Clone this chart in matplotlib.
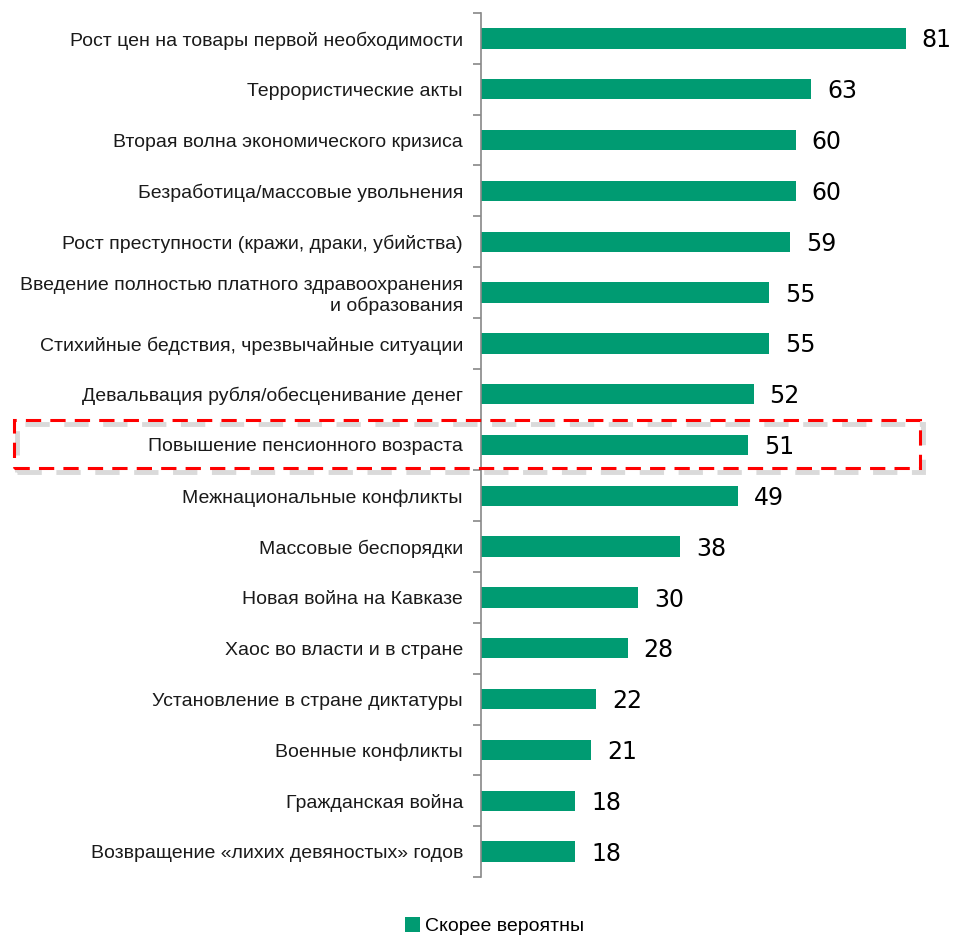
import matplotlib.pyplot as plt
import matplotlib.patches as mpatches
import numpy as np

categories = [
    'Рост цен на товары первой необходимости',
    'Террористические акты',
    'Вторая волна экономического кризиса',
    'Безработица/массовые увольнения',
    'Рост преступности (кражи, драки, убийства)',
    'Введение полностью платного здравоохранения\nи образования',
    'Стихийные бедствия, чрезвычайные ситуации',
    'Девальвация рубля/обесценивание денег',
    'Повышение пенсионного возраста',
    'Межнациональные конфликты',
    'Массовые беспорядки',
    'Новая война на Кавказе',
    'Хаос во власти и в стране',
    'Установление в стране диктатуры',
    'Военные конфликты',
    'Гражданская война',
    'Возвращение «лихих девяностых» годов',
]
values = [81, 63, 60, 60, 59, 55, 55, 52, 51, 49, 38, 30, 28, 22, 21, 18, 18]
series_name = 'Скорее вероятны'
highlight = 'Повышение пенсионного возраста'

plt.rcParams['font.family'] = ['Liberation Sans', 'DejaVu Sans']
green = '#009B72'

fig = plt.figure(figsize=(9.55, 9.36), dpi=100)
ax = fig.add_axes([481 / 955, 1 - 877 / 936, 472 / 955, 864 / 936])

y = np.arange(len(categories))
ax.barh(y, values, height=0.4, color=green, label=series_name)
ax.set_ylim(len(categories) - 0.5, -0.5)
ax.set_xlim(0, 90)

for yi, v in zip(y, values):
    ax.text(v + 3, yi + 0.04, str(v), va='center', ha='left', fontsize=17,
            family=['DejaVu Sans'], color='#000000')

ax.set_yticks(y)
ax.set_yticklabels(categories, fontsize=14, color='#1a1a1a', linespacing=1.2)
ax.set_yticks(np.arange(len(categories) + 1) - 0.5, minor=True)
ax.tick_params(axis='y', which='major', length=0, pad=13)
ax.tick_params(axis='y', which='minor', length=6, color='#888888', width=1.2)
ax.set_xticks([])
for s in ['top', 'right', 'bottom']:
    ax.spines[s].set_visible(False)
ax.spines['left'].set_color('#888888')
ax.spines['left'].set_linewidth(1.2)

# рамка вокруг выделенной строки
hy = categories.index(highlight)
box_top = ax.transData.transform((0, hy - 0.5))[1]
box_bot = ax.transData.transform((0, hy + 0.45))[1]
fw, fh = fig.bbox.width, fig.bbox.height
x0, x1 = 14 / fw, 920 / fw
y0, y1 = box_bot / fh, box_top / fh
shadow = mpatches.Rectangle((x0 + 3 / fw, y0 - 4 / fh), x1 - x0, y1 - y0,
                            transform=fig.transFigure, fill=False,
                            edgecolor='#dadada', linewidth=3.5,
                            linestyle=(0, (5, 3)), zorder=4)
box = mpatches.Rectangle((x0, y0), x1 - x0, y1 - y0, transform=fig.transFigure,
                         fill=False, edgecolor='#ff0000', linewidth=2.2,
                         linestyle=(0, (5, 3)), zorder=5)
fig.patches.extend([shadow, box])

fig.legend(loc='lower center', bbox_to_anchor=(0.518, -0.018), frameon=False,
           fontsize=14, handlelength=0.75, handleheight=0.75, handletextpad=0.3)

plt.savefig('out.png', dpi=100)
plt.close()
